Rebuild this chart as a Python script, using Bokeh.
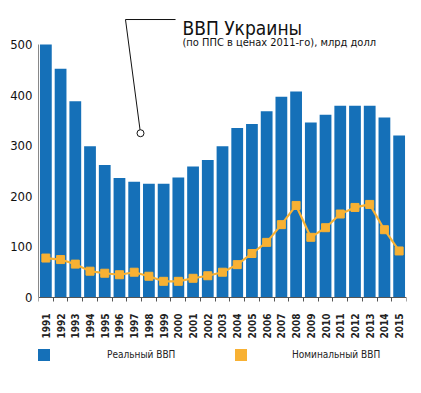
import math
from bokeh.plotting import figure
from bokeh.models import (Range1d, FixedTicker, Legend, LegendItem, ColumnDataSource, LinearAxis)
from bokeh.core.properties import value
from bokeh.embed import file_html
from bokeh.resources import INLINE

years = list(range(1991, 2016))
real_gdp = [500, 452, 388, 299, 262, 236, 229, 225, 225, 237, 259, 272, 299,
            335, 343, 368, 397, 407, 346, 361, 379, 379, 379, 356, 320]
nominal_gdp = [78, 75, 66, 52, 48, 45, 50, 42, 32, 32, 38, 43, 50,
               65, 87, 109, 144, 182, 119, 138, 165, 178, 184, 134, 92]
year_labels = [str(y) for y in years]
title_text = "ВВП Украины"
subtitle_text = "(по ППС в ценах 2011-го), млрд долл"
series_names = ["Реальный ВВП", "Номинальный ВВП"]

FONT = "DejaVu Sans Condensed, Roboto"
BLUE = "#1570B8"
ORANGE = "#F8B133"

p = figure(width=421, height=393, output_backend="svg", toolbar_location=None,
           x_range=Range1d(1990.5, 2015.5), y_range=Range1d(-189.7, 587.0),
           min_border_left=38, min_border_right=15, min_border_top=0,
           min_border_bottom=0, x_axis_type=None, y_axis_type=None)
p.outline_line_color = None
p.xgrid.visible = False
p.ygrid.visible = False

src = ColumnDataSource(dict(x=years, real=real_gdp, nom=nominal_gdp))
bars = p.vbar(x="x", top="real", width=0.8, fill_color=BLUE, line_color=None, source=src)
line = p.line(x="x", y="nom", line_color=ORANGE, line_width=2.2, source=src)
marks = p.scatter(x="x", y="nom", marker="square", size=8, fill_color=ORANGE,
                  line_color=ORANGE, source=src)
# zero-height bars of the nominal series: only used to draw a full legend swatch
nom_swatch = p.vbar(x="x", top="nom", bottom="nom", width=0.8, fill_color=ORANGE,
                    line_color=None, source=src)

# axes
xaxis = LinearAxis(ticker=FixedTicker(ticks=years, minor_ticks=[y - 0.5 for y in years] + [2015.5]),
                   fixed_location=0, bounds=(1990.5, 2015.5))
xaxis.major_label_overrides = {y: s for y, s in zip(years, year_labels)}
xaxis.major_label_orientation = math.pi / 2
xaxis.major_tick_out = 0
xaxis.major_tick_in = 0
xaxis.minor_tick_out = 4
xaxis.minor_tick_in = 0
xaxis.minor_tick_line_color = "#555555"
xaxis.axis_line_color = "#555555"
xaxis.major_label_standoff = 12
xaxis.major_label_text_font = FONT
xaxis.major_label_text_font_size = "10px"
xaxis.major_label_text_font_style = "bold"
xaxis.major_label_text_color = "#222222"
p.add_layout(xaxis, "below")

yaxis = LinearAxis(ticker=FixedTicker(ticks=[0, 100, 200, 300, 400, 500]), bounds=(0, 500))
yaxis.major_tick_out = 0
yaxis.major_tick_in = 0
yaxis.minor_tick_out = 0
yaxis.axis_line_color = "#888888"
yaxis.major_label_standoff = 6
yaxis.major_label_text_font = FONT
yaxis.major_label_text_font_size = "13px"
yaxis.major_label_text_color = "#111111"
p.add_layout(yaxis, "left")

# title annotation
p.text(x=[2000.28], y=[533.6], text=[title_text], text_font=value(FONT),
       text_font_size="19px", text_color="#111111", text_baseline="alphabetic")
p.text(x=[2000.28], y=[504.5], text=[subtitle_text], text_font=value(FONT),
       text_font_size="11px", text_color="#111111", text_baseline="alphabetic")
p.line(x=[1999.81, 1996.41, 1997.40], y=[549.4, 549.4, 331.0], line_color="#111111", line_width=1)
p.scatter(x=[1997.43], y=[324.7], marker="circle", size=7, fill_color="white",
          line_color="#111111", line_width=1)

# legends
leg1 = Legend(items=[LegendItem(label=series_names[0], renderers=[bars])], location=(-2, 31))
leg2 = Legend(items=[LegendItem(label=series_names[1], renderers=[nom_swatch])], location=(195, 31))
for lg, stand in ((leg1, 56), (leg2, 44)):
    lg.glyph_width = 15
    lg.glyph_height = 15
    lg.label_standoff = stand
    lg.padding = 0
    lg.margin = 0
    lg.border_line_color = None
    lg.background_fill_alpha = 0
    lg.label_text_font = FONT
    lg.label_text_font_size = "10px"
    lg.label_text_color = "#222222"
    lg.label_height = 15
    p.add_layout(lg, "center")

open("out.html", "w").write(file_html(p, INLINE))
